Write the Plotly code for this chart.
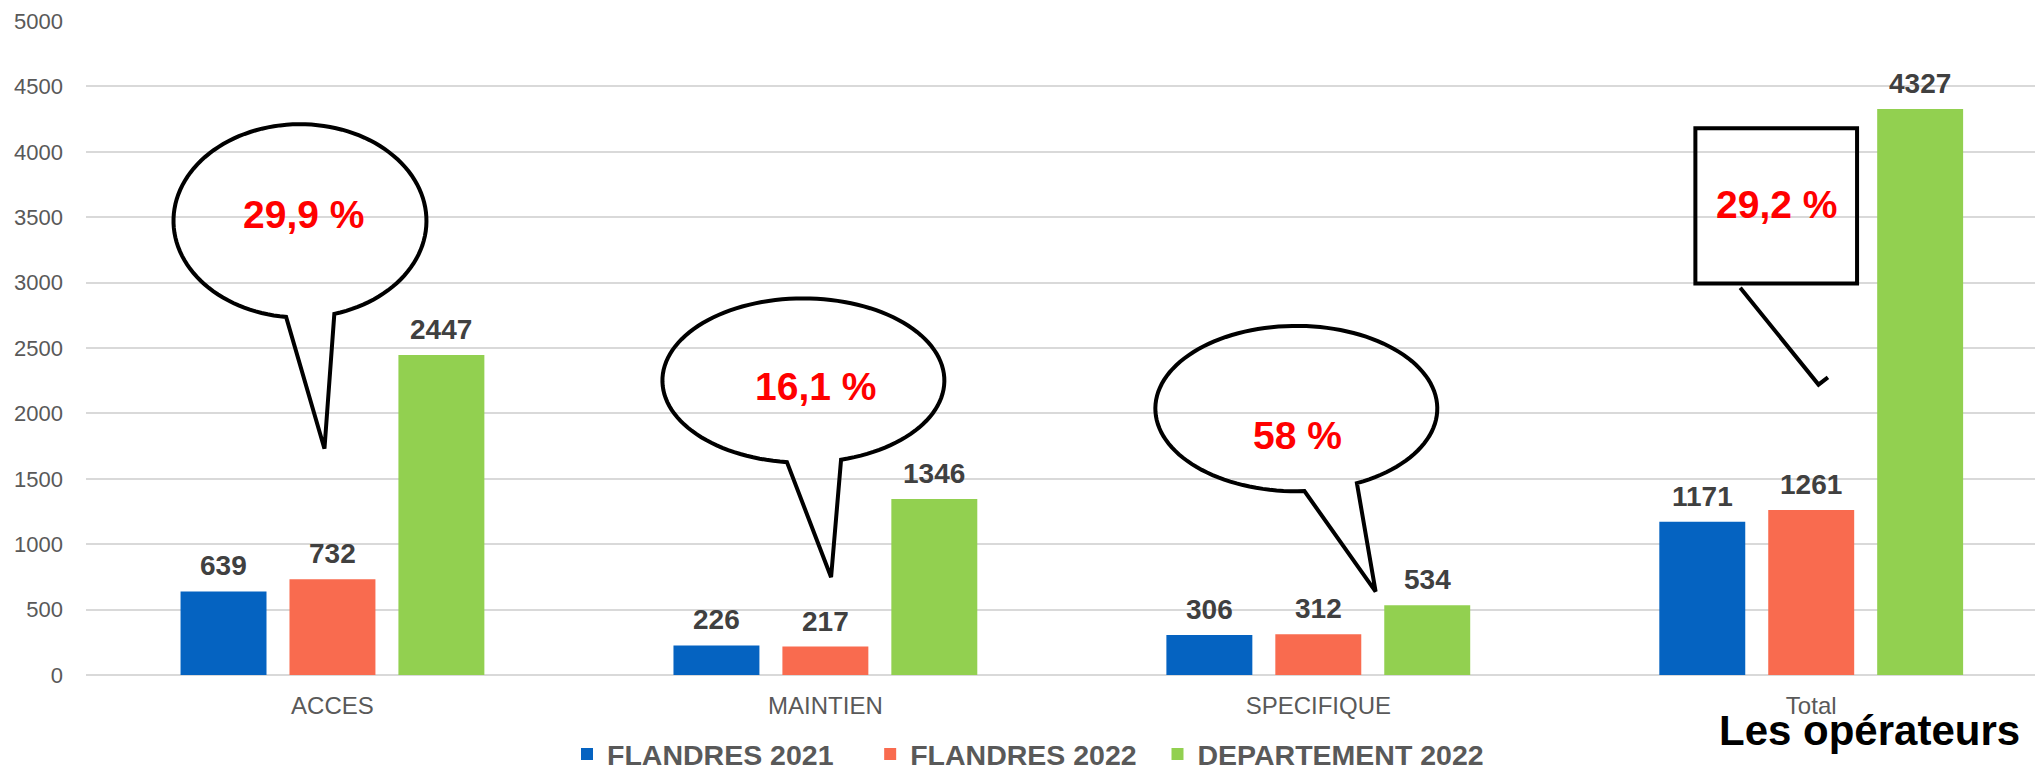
import numpy as np
import plotly.graph_objects as go

# ---------------- data ----------------
categories = ["ACCES", "MAINTIEN", "SPECIFIQUE", "Total"]
flandres_2021 = [639, 226, 306, 1171]
flandres_2022 = [732, 217, 312, 1261]
departement_2022 = [2447, 1346, 534, 4327]
series_names = ["FLANDRES 2021", "FLANDRES 2022", "DEPARTEMENT 2022"]
y_tick_values = [0, 500, 1000, 1500, 2000, 2500, 3000, 3500, 4000, 4500, 5000]
callout_texts = ["29,9 %", "16,1 %", "58 %", "29,2 %"]
corner_title = "Les opérateurs"

# ---------------- style ----------------
series_colors = ["#0563C1", "#F96B4F", "#92D050"]
legend_pad = [4, 2, 0]   # trailing non-breaking spaces for legend spacing
FONT = "Liberation Sans, Arial, sans-serif"
BARGAP = 0.337
BARGROUPGAP = 0.211
W, H = 2035, 769

x_pos = list(range(len(categories)))
series_values = [flandres_2021, flandres_2022, departement_2022]

fig = go.Figure()
for name, vals, col, pad in zip(series_names, series_values, series_colors, legend_pad):
    fig.add_trace(go.Bar(x=x_pos, y=vals, name=name + "\u00a0" * pad,
                         marker=dict(color=col, line=dict(width=0))))

# data labels above bars
slot = (1 - BARGAP) / len(series_values)
annotations = []
for j, vals in enumerate(series_values):
    off = (j - (len(series_values) - 1) / 2) * slot
    for i, v in enumerate(vals):
        annotations.append(dict(
            x=i + off, y=v, xref="x", yref="y", text=f"<b>{v}</b>", showarrow=False,
            yanchor="bottom", xanchor="center", yshift=8,
            font=dict(family=FONT, size=28, color="#404040")))

# ---------------- callouts (positions in data units) ----------------
balloons = [
    # cx, cy, a, b, left attach, tip, right attach
    (-0.0659, 3472, 0.2566, 739, (-0.0933, 2757), (-0.0162, 1730), (0.0020, 2779)),
    (0.9554, 2251, 0.2860, 628, (0.9223, 1633), (1.0116, 748), (1.0318, 1646)),
    (1.9554, 2037, 0.2860, 632, (1.9716, 1417), (2.1163, 638), (2.0771, 1472)),
]
text_pos = [(-0.0588, 3522), (0.9807, 2208), (1.9568, 1830), (2.9304, 3599)]


def balloon_path(cx, cy, a, b, left, tip, right, n=120):
    def ang(p):
        return np.arctan2((p[1] - cy) / b, (p[0] - cx) / a)
    t0, t1 = ang(right), ang(left)
    if t1 <= t0:
        t1 += 2 * np.pi
    ts = np.linspace(t0, t1, n)
    pts = [(cx + a * np.cos(t), cy + b * np.sin(t)) for t in ts] + [tip]
    return "M " + " L ".join(f"{x:.5f},{y:.3f}" for x, y in pts) + " Z"


shapes = []
for cx, cy, a, b, l, t, r in balloons:
    shapes.append(dict(type="path", xref="x", yref="y", path=balloon_path(cx, cy, a, b, l, t, r),
                       line=dict(color="black", width=4), fillcolor="rgba(0,0,0,0)", layer="above"))
# rectangular callout for Total
shapes.append(dict(type="rect", xref="x", yref="y", x0=2.765, x1=3.093, y0=2994, y1=4181,
                   line=dict(color="black", width=4), fillcolor="rgba(0,0,0,0)", layer="above"))
shapes.append(dict(type="path", xref="x", yref="y",
                   path="M 2.856,2961 L 3.0148,2220 L 3.0339,2276",
                   line=dict(color="black", width=4), layer="above"))

for txt, (tx, ty) in zip(callout_texts, text_pos):
    annotations.append(dict(x=tx, y=ty, xref="x", yref="y", text=f"<b>{txt}</b>", showarrow=False,
                            xanchor="center", yanchor="middle",
                            font=dict(family=FONT, size=39, color="#FF0000")))

annotations.append(dict(x=0.9935, y=-0.085, xref="paper", yref="paper", text=f"<b>{corner_title}</b>",
                        showarrow=False, xanchor="right", yanchor="middle",
                        font=dict(family=FONT, size=42, color="#000000")))

fig.update_layout(
    width=W, height=H,
    margin=dict(l=86, r=0, t=21, b=94, autoexpand=False),
    plot_bgcolor="white", paper_bgcolor="white",
    barmode="group", bargap=BARGAP, bargroupgap=BARGROUPGAP,
    font=dict(family=FONT),
    showlegend=True,
    legend=dict(orientation="h", x=0.2468, xanchor="left", y=-0.1215, yanchor="middle",
                font=dict(family=FONT, size=28.5, color="#595959", weight="bold"),
                traceorder="normal"),
    annotations=annotations,
    shapes=shapes,
    xaxis=dict(range=[-0.5, 3.454], tickvals=x_pos, ticktext=categories, showgrid=False,
               zeroline=False, showline=False, ticks="", ticklabelstandoff=14, automargin=False,
               tickfont=dict(family=FONT, size=24, color="#595959")),
    yaxis=dict(range=[0, 5000], tickvals=y_tick_values, showgrid=True, gridcolor="#D9D9D9",
               gridwidth=1.5, zeroline=True, zerolinecolor="#D9D9D9", zerolinewidth=1.5,
               showline=False, ticks="", ticklabelstandoff=22, automargin=False,
               tickfont=dict(family=FONT, size=22, color="#595959")),
)

fig.write_html("out.html", config={"displayModeBar": False},
               post_script="document.body.style.margin='0px';document.body.style.overflow='hidden';")
